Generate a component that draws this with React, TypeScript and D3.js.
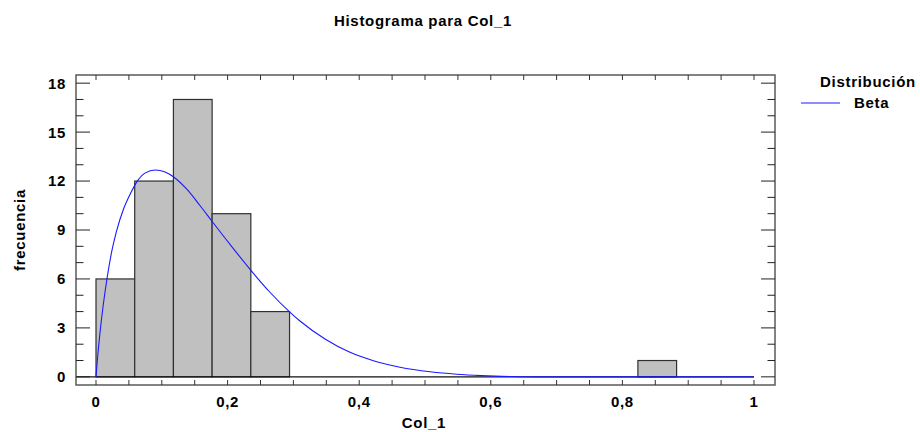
import React from "react";
import * as d3 from "d3";

// ---- data ----
const title = "Histograma para Col_1";
const xLabel = "Col_1";
const yLabel = "frecuencia";
const legendTitle = "Distribución";
const legendSeries = "Beta";

const binCount = 17;
const binLow = 0;
const binHigh = 1;
const counts = [6, 12, 17, 10, 4, 0, 0, 0, 0, 0, 0, 0, 0, 0, 1, 0, 0];

// fitted Beta curve: x values and frequencies
const curveX = [0, 0.002, 0.006, 0.011, 0.017, 0.024, 0.031, 0.042, 0.052, 0.062, 0.075, 0.09, 0.105, 0.118, 0.138, 0.158, 0.176, 0.204, 0.237, 0.264, 0.295, 0.31, 0.348, 0.386, 0.424, 0.462, 0.508, 0.548, 0.586, 0.63, 0.67, 1.0];
const curveY = [0, 1.0, 2.68, 4.4, 6.1, 7.7, 8.9, 10.3, 11.2, 11.95, 12.5, 12.68, 12.55, 12.25, 11.5, 10.5, 9.55, 8.1, 6.45, 5.2, 3.95, 3.42, 2.32, 1.5, 0.96, 0.59, 0.31, 0.16, 0.075, 0.02, 0, 0];

const xTickLabels = ["0", "0,2", "0,4", "0,6", "0,8", "1"];
const xTickValues = [0, 0.2, 0.4, 0.6, 0.8, 1];
const xMinorValues = d3.range(0, 21).map((i) => i * 0.05);
const yTickValues = [0, 3, 6, 9, 12, 15, 18];
const yMinorValues = d3.range(0, 19);

// ---- layout ----
const W = 920;
const H = 432;
const left = 76;
const right = 775;
const top = 75;
const bottom = 385;
const FONT = "'Liberation Sans', Arial, sans-serif";

export default function App() {
  const x = d3.scaleLinear().domain([-0.0304, 1.0319]).range([left, right]);
  const y = d3.scaleLinear().domain([-0.5, 18.5]).range([bottom, top]);
  const bw = (binHigh - binLow) / binCount;

  const line = d3
    .line<number>()
    .x((_, i) => x(curveX[i]))
    .y((d) => y(d))
    .curve(d3.curveMonotoneX);

  const txt = {
    fontFamily: FONT,
    fontWeight: 700,
    fontSize: 15,
    letterSpacing: 0.7,
    fill: "#000",
  } as const;

  return (
    <svg
      width={W}
      height={H}
      style={{ position: "absolute", left: 0, top: 0, background: "#fff" }}
    >
      <rect x={0} y={0} width={W} height={H} fill="#fff" />
      <text x={423} y={26} textAnchor="middle" {...txt}>
        {title}
      </text>

      {/* bars */}
      {counts.map((c, i) =>
        c > 0 ? (
          <rect
            key={i}
            x={x(binLow + i * bw)}
            y={y(c)}
            width={x(binLow + (i + 1) * bw) - x(binLow + i * bw)}
            height={y(0) - y(c)}
            fill="#c0c0c0"
            stroke="#303030"
            strokeWidth={1.2}
          />
        ) : null
      )}

      {/* baseline */}
      <line x1={left} x2={x(1)} y1={y(0)} y2={y(0)} stroke="#111" strokeWidth={1.3} />

      {/* curve */}
      <path d={line(curveY) || ""} fill="none" stroke="#1a1aff" strokeWidth={1.1} />

      {/* frame */}
      <rect
        x={left}
        y={top}
        width={right - left}
        height={bottom - top}
        fill="none"
        stroke="#5a5a5a"
        strokeWidth={1.5}
      />

      {/* x ticks top and bottom */}
      {xMinorValues.map((v, i) => (
        <g key={"xt" + i}>
          <line x1={x(v)} x2={x(v)} y1={bottom} y2={bottom - 5} stroke="#333" strokeWidth={1} />
          <line x1={x(v)} x2={x(v)} y1={top} y2={top + 5} stroke="#333" strokeWidth={1} />
        </g>
      ))}
      {/* y ticks left and right */}
      {yMinorValues.map((v) => {
        const major = v % 3 === 0;
        const len = major ? 14 : 7.5;
        return (
          <g key={"yt" + v}>
            <line x1={left} x2={left + len} y1={y(v)} y2={y(v)} stroke="#222" strokeWidth={1} />
            <line x1={right} x2={right - len} y1={y(v)} y2={y(v)} stroke="#222" strokeWidth={1} />
          </g>
        );
      })}

      {/* tick labels */}
      {xTickValues.map((v, i) => (
        <text key={"xl" + i} x={x(v)} y={407} textAnchor="middle" {...txt}>
          {xTickLabels[i]}
        </text>
      ))}
      {yTickValues.map((v) => (
        <text
          key={"yl" + v}
          x={66}
          y={y(v)}
          dy="0.36em"
          textAnchor="end"
          {...txt}
        >
          {String(v)}
        </text>
      ))}

      {/* axis titles */}
      <text x={424} y={428} textAnchor="middle" {...txt}>
        {xLabel}
      </text>
      <text
        transform={`translate(25,230) rotate(-90)`}
        textAnchor="middle"
        {...txt}
      >
        {yLabel}
      </text>

      {/* legend */}
      <text x={868} y={87} textAnchor="middle" {...txt}>
        {legendTitle}
      </text>
      <line x1={801} x2={840} y1={103} y2={103} stroke="#1a1aff" strokeWidth={1.1} />
      <text x={854} y={108} {...txt}>
        {legendSeries}
      </text>
    </svg>
  );
}
